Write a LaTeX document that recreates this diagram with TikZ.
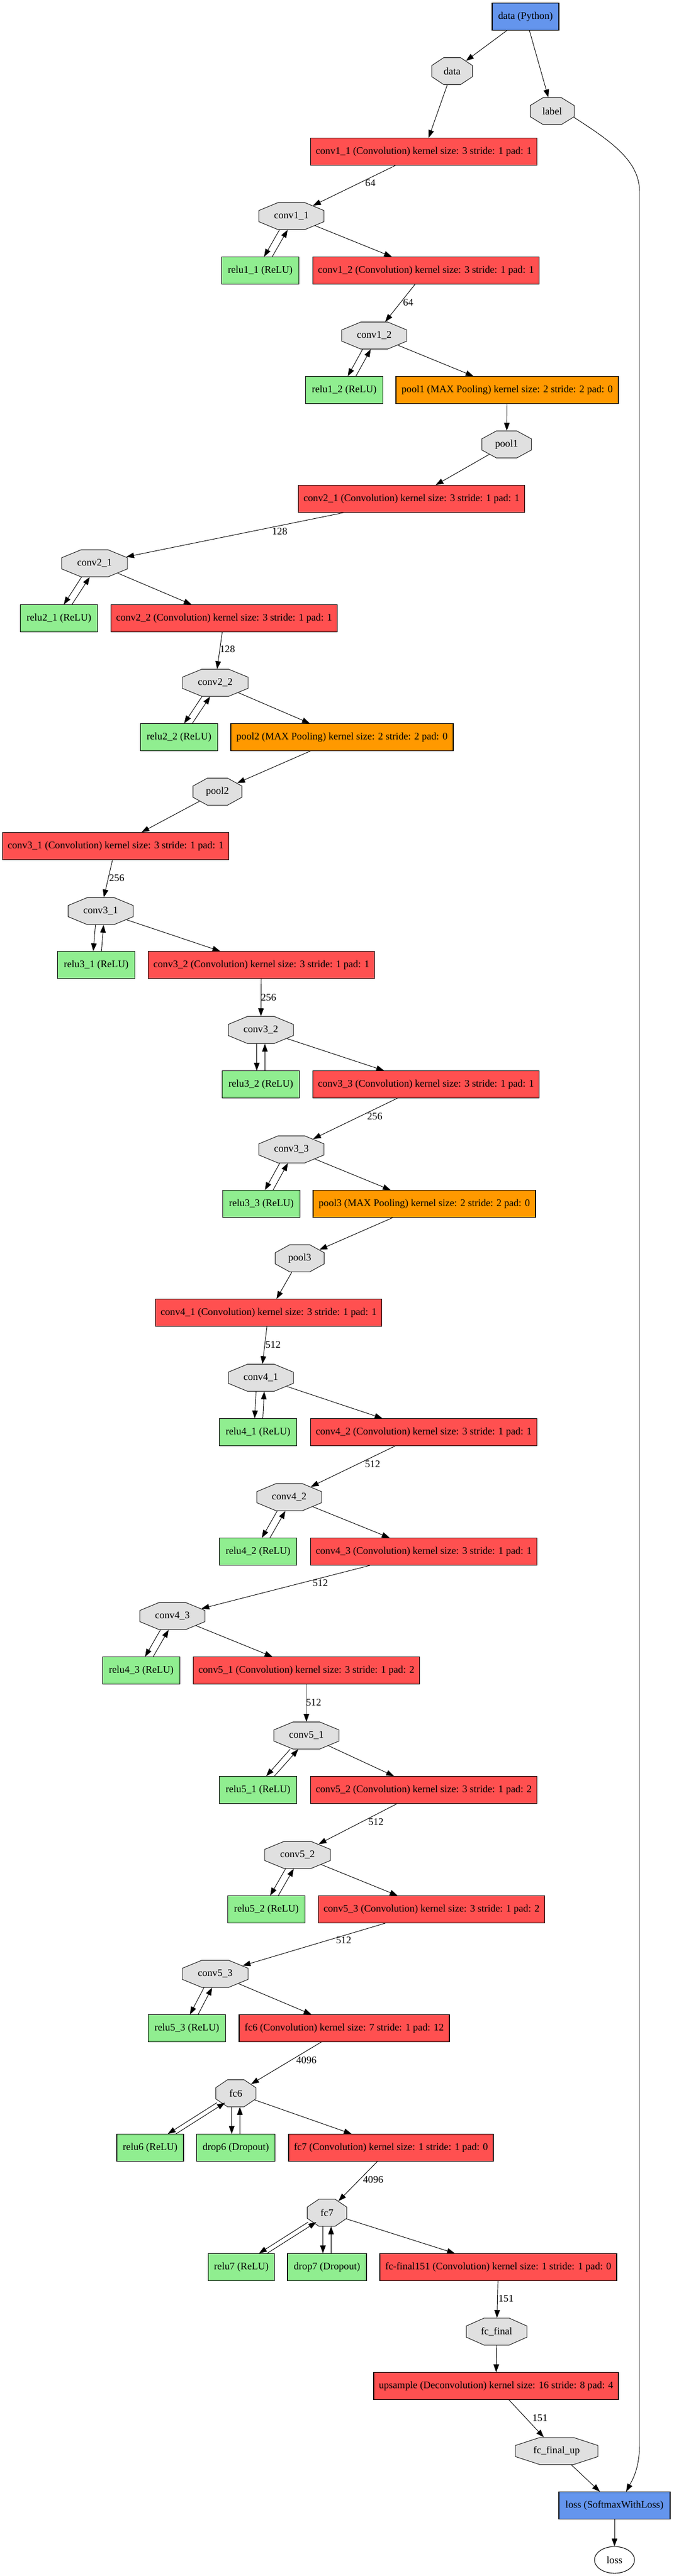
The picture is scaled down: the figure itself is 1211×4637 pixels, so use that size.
\documentclass[tikz,border=0pt]{standalone}
\usepackage{fontspec}
\usepackage{graphicx}
\setmainfont{Liberation Serif}
\usetikzlibrary{arrows.meta,shapes.geometric}
\definecolor{convred}{HTML}{FF5050}
\definecolor{poolorange}{HTML}{FF9900}
\definecolor{relugreen}{HTML}{90EE90}
\definecolor{datablue}{HTML}{6495ED}
\definecolor{blobgray}{HTML}{E0E0E0}
\newcommand\octtxt[2]{\pgfmathparse{1/#1}\scalebox{\pgfmathresult}[1]{#2}}
\begin{document}
\begin{tikzpicture}[x=0.75pt,y=-0.75pt,
  font=\fontsize{13.6}{16}\selectfont,
  box/.style={rectangle, draw=black, line width=0.8pt, minimum height=36.5pt, inner xsep=2pt, inner ysep=0pt},
  conv/.style={box, fill=convred, minimum width=#1*0.75pt},
  pool/.style={box, fill=poolorange, minimum width=#1*0.75pt},
  relu/.style={box, fill=relugreen, minimum width=#1*0.75pt},
  dl/.style={box, fill=datablue, minimum width=#1*0.75pt},
  oct/.style={regular polygon, regular polygon sides=8, draw=black!85, line width=0.8pt, fill=blobgray,
    minimum size=39.4pt, inner sep=0pt, xscale=#1, transform shape},
  conn/.style={-{Triangle[length=10.5pt,width=7.5pt]}, line width=0.7pt},
  edn/.style={conn, transform canvas={xshift=-5.5pt}},
  eup/.style={conn, transform canvas={xshift=5.5pt}},
  lbl/.style={inner sep=0pt}]
\useasboundingbox (0,0) rectangle (1211,4637);

% ---------- nodes ----------
\node[dl=120] (dpy) at (945,30) {data (Python)};
\node[oct=1.505] (data) at (813,128) {\octtxt{1.505}{data}};
\node[oct=1.629] (label) at (993,200) {\octtxt{1.629}{label}};
\node[conv=407] (c11b) at (762,273) {conv1\_1 (Convolution) kernel size: 3 stride: 1 pad: 1};
\node[oct=2.412] (c11) at (524,389) {\octtxt{2.412}{conv1\_1}};
\node[relu=139] (r11) at (468,487) {relu1\_1 (ReLU)};
\node[conv=407] (c12b) at (766,487) {conv1\_2 (Convolution) kernel size: 3 stride: 1 pad: 1};
\node[oct=2.412] (c12) at (673,604) {\octtxt{2.412}{conv1\_2}};
\node[relu=139] (r12) at (619,702) {relu1\_2 (ReLU)};
\node[pool=400] (p1b) at (912,702) {pool1 (MAX Pooling) kernel size: 2 stride: 2 pad: 0};
\node[oct=1.835] (p1) at (911,800) {\octtxt{1.835}{pool1}};
\node[conv=407] (c21b) at (740,898) {conv2\_1 (Convolution) kernel size: 3 stride: 1 pad: 1};
\node[oct=2.433] (c21) at (170,1014) {\octtxt{2.433}{conv2\_1}};
\node[relu=139] (r21) at (106,1113) {relu2\_1 (ReLU)};
\node[conv=407] (c22b) at (403,1113) {conv2\_2 (Convolution) kernel size: 3 stride: 1 pad: 1};
\node[oct=2.433] (c22) at (387,1229) {\octtxt{2.433}{conv2\_2}};
\node[relu=139] (r22) at (322,1327) {relu2\_2 (ReLU)};
\node[pool=400] (p2b) at (615,1327) {pool2 (MAX Pooling) kernel size: 2 stride: 2 pad: 0};
\node[oct=1.814] (p2) at (391,1425) {\octtxt{1.814}{pool2}};
\node[conv=407] (c31b) at (208,1523) {conv3\_1 (Convolution) kernel size: 3 stride: 1 pad: 1};
\node[oct=2.412] (c31) at (181,1640) {\octtxt{2.412}{conv3\_1}};
\node[relu=139] (r31) at (173,1737) {relu3\_1 (ReLU)};
\node[conv=407] (c32b) at (470,1737) {conv3\_2 (Convolution) kernel size: 3 stride: 1 pad: 1};
\node[oct=2.412] (c32) at (469,1854) {\octtxt{2.412}{conv3\_2}};
\node[relu=139] (r32) at (469,1952) {relu3\_2 (ReLU)};
\node[conv=407] (c33b) at (766,1952) {conv3\_3 (Convolution) kernel size: 3 stride: 1 pad: 1};
\node[oct=2.412] (c33) at (524,2069) {\octtxt{2.412}{conv3\_3}};
\node[relu=139] (r33) at (470,2167) {relu3\_3 (ReLU)};
\node[pool=400] (p3b) at (763,2167) {pool3 (MAX Pooling) kernel size: 2 stride: 2 pad: 0};
\node[oct=1.814] (p3) at (539,2265) {\octtxt{1.814}{pool3}};
\node[conv=407] (c41b) at (483,2363) {conv4\_1 (Convolution) kernel size: 3 stride: 1 pad: 1};
\node[oct=2.412] (c41) at (469,2480) {\octtxt{2.412}{conv4\_1}};
\node[relu=139] (r41) at (464,2578) {relu4\_1 (ReLU)};
\node[conv=407] (c42b) at (762,2578) {conv4\_2 (Convolution) kernel size: 3 stride: 1 pad: 1};
\node[oct=2.392] (c42) at (520,2695) {\octtxt{2.392}{conv4\_2}};
\node[relu=139] (r42) at (464,2793) {relu4\_2 (ReLU)};
\node[conv=407] (c43b) at (762,2793) {conv4\_3 (Convolution) kernel size: 3 stride: 1 pad: 1};
\node[oct=2.412] (c43) at (310,2909) {\octtxt{2.412}{conv4\_3}};
\node[relu=139] (r43) at (254,3007) {relu4\_3 (ReLU)};
\node[conv=407] (c51b) at (551,3007) {conv5\_1 (Convolution) kernel size: 3 stride: 1 pad: 2};
\node[oct=2.412] (c51) at (551,3124) {\octtxt{2.412}{conv5\_1}};
\node[relu=139] (r51) at (464,3222) {relu5\_1 (ReLU)};
\node[conv=407] (c52b) at (762,3222) {conv5\_2 (Convolution) kernel size: 3 stride: 1 pad: 2};
\node[oct=2.433] (c52) at (535,3339) {\octtxt{2.433}{conv5\_2}};
\node[relu=139] (r52) at (479,3437) {relu5\_2 (ReLU)};
\node[conv=407] (c53b) at (776,3437) {conv5\_3 (Convolution) kernel size: 3 stride: 1 pad: 2};
\node[oct=2.433] (c53) at (387,3553) {\octtxt{2.433}{conv5\_3}};
\node[relu=139] (r53) at (336,3651) {relu5\_3 (ReLU)};
\node[conv=378] (fc6b) at (619,3651) {fc6 (Convolution) kernel size: 7 stride: 1 pad: 12};
\node[oct=1.485] (fc6) at (424,3768) {\octtxt{1.485}{fc6}};
\node[relu=120] (relu6) at (270,3866) {relu6 (ReLU)};
\node[relu=141] (drop6) at (424,3866) {drop6 (Dropout)};
\node[conv=368] (fc7b) at (703,3866) {fc7 (Convolution) kernel size: 1 stride: 1 pad: 0};
\node[oct=1.464] (fc7) at (588,3983) {\octtxt{1.464}{fc7}};
\node[relu=119] (relu7) at (434,4081) {relu7 (ReLU)};
\node[relu=142] (drop7) at (588,4081) {drop7 (Dropout)};
\node[conv=426] (ffb) at (896,4081) {fc-final151 (Convolution) kernel size: 1 stride: 1 pad: 0};
\node[oct=2.247] (ff) at (893,4197) {\octtxt{2.247}{fc\_final}};
\node[conv=440] (upb) at (892,4295) {upsample (Deconvolution) kernel size: 16 stride: 8 pad: 4};
\node[oct=3.052] (ffu) at (1001,4412) {\octtxt{3.052}{fc\_final\_up}};
\node[dl=200] (lossb) at (1105,4510) {loss (SoftmaxWithLoss)};
\node[ellipse, draw=black, line width=0.8pt, fill=white, minimum width=54pt, minimum height=36pt, inner sep=0pt] (losse) at (1105,4608) {loss};

% ---------- edge labels ----------
\node[lbl] (l01) at (666,330) {64};
\node[lbl] (l02) at (734,545) {64};
\node[lbl] (l03) at (503,957) {128};
\node[lbl] (l04) at (409,1169) {128};
\node[lbl] (l05) at (210,1581) {256};
\node[lbl] (l06) at (483,1796) {256};
\node[lbl] (l07) at (674,2010) {256};
\node[lbl] (l08) at (491,2421) {512};
\node[lbl] (l09) at (670,2636) {512};
\node[lbl] (l10) at (576,2850) {512};
\node[lbl] (l11) at (564,3065) {512};
\node[lbl] (l12) at (676,3280) {512};
\node[lbl] (l13) at (618,3493) {512};
\node[lbl] (l14) at (551,3709) {4096};
\node[lbl] (l15) at (671,3924) {4096};
\node[lbl] (l16) at (910,4138) {151};
\node[lbl] (l17) at (971,4353) {151};

% ---------- edges ----------
\draw[conn] (dpy) -- (data);
\draw[conn] (dpy) -- (label);
\draw[conn] (data) -- (c11b);
\draw[conn] (c11b) -- (c11);
\draw[edn] (c11) -- (r11);
\draw[eup] (r11) -- (c11);
\draw[conn] (c11) -- (c12b);
\draw[conn] (c12b) -- (c12);
\draw[edn] (c12) -- (r12);
\draw[eup] (r12) -- (c12);
\draw[conn] (c12) -- (p1b);
\draw[conn] (p1b) -- (p1);
\draw[conn] (p1) -- (c21b);
\draw[conn] (c21b) -- (c21);
\draw[edn] (c21) -- (r21);
\draw[eup] (r21) -- (c21);
\draw[conn] (c21) -- (c22b);
\draw[conn] (c22b) -- (c22);
\draw[edn] (c22) -- (r22);
\draw[eup] (r22) -- (c22);
\draw[conn] (c22) -- (p2b);
\draw[conn] (p2b) -- (p2);
\draw[conn] (p2) -- (c31b);
\draw[conn] (c31b) -- (c31);
\draw[edn] (c31) -- (r31);
\draw[eup] (r31) -- (c31);
\draw[conn] (c31) -- (c32b);
\draw[conn] (c32b) -- (c32);
\draw[edn] (c32) -- (r32);
\draw[eup] (r32) -- (c32);
\draw[conn] (c32) -- (c33b);
\draw[conn] (c33b) -- (c33);
\draw[edn] (c33) -- (r33);
\draw[eup] (r33) -- (c33);
\draw[conn] (c33) -- (p3b);
\draw[conn] (p3b) -- (p3);
\draw[conn] (p3) -- (c41b);
\draw[conn] (c41b) -- (c41);
\draw[edn] (c41) -- (r41);
\draw[eup] (r41) -- (c41);
\draw[conn] (c41) -- (c42b);
\draw[conn] (c42b) -- (c42);
\draw[edn] (c42) -- (r42);
\draw[eup] (r42) -- (c42);
\draw[conn] (c42) -- (c43b);
\draw[conn] (c43b) -- (c43);
\draw[edn] (c43) -- (r43);
\draw[eup] (r43) -- (c43);
\draw[conn] (c43) -- (c51b);
\draw[conn] (c51b) -- (c51);
\draw[edn] (c51) -- (r51);
\draw[eup] (r51) -- (c51);
\draw[conn] (c51) -- (c52b);
\draw[conn] (c52b) -- (c52);
\draw[edn] (c52) -- (r52);
\draw[eup] (r52) -- (c52);
\draw[conn] (c52) -- (c53b);
\draw[conn] (c53b) -- (c53);
\draw[edn] (c53) -- (r53);
\draw[eup] (r53) -- (c53);
\draw[conn] (c53) -- (fc6b);
\draw[conn] (fc6b) -- (fc6);
\draw[edn] (fc6) -- (relu6);
\draw[eup] (relu6) -- (fc6);
\draw[edn] (fc6) -- (drop6);
\draw[eup] (drop6) -- (fc6);
\draw[conn] (fc6) -- (fc7b);
\draw[conn] (fc7b) -- (fc7);
\draw[edn] (fc7) -- (relu7);
\draw[eup] (relu7) -- (fc7);
\draw[edn] (fc7) -- (drop7);
\draw[eup] (drop7) -- (fc7);
\draw[conn] (fc7) -- (ffb);
\draw[conn] (ffb) -- (ff);
\draw[conn] (ff) -- (upb);
\draw[conn] (upb) -- (ffu);
\draw[conn] (ffu) -- (lossb);
\draw[conn] (label.-25) .. controls (1100,255) and (1150,290) .. (1150,345)
  -- (1150,4400) .. controls (1150,4445) and (1136,4466) .. ([xshift=15.75pt]lossb.north);
\draw[conn] (lossb) -- (losse);
\end{tikzpicture}
\end{document}
